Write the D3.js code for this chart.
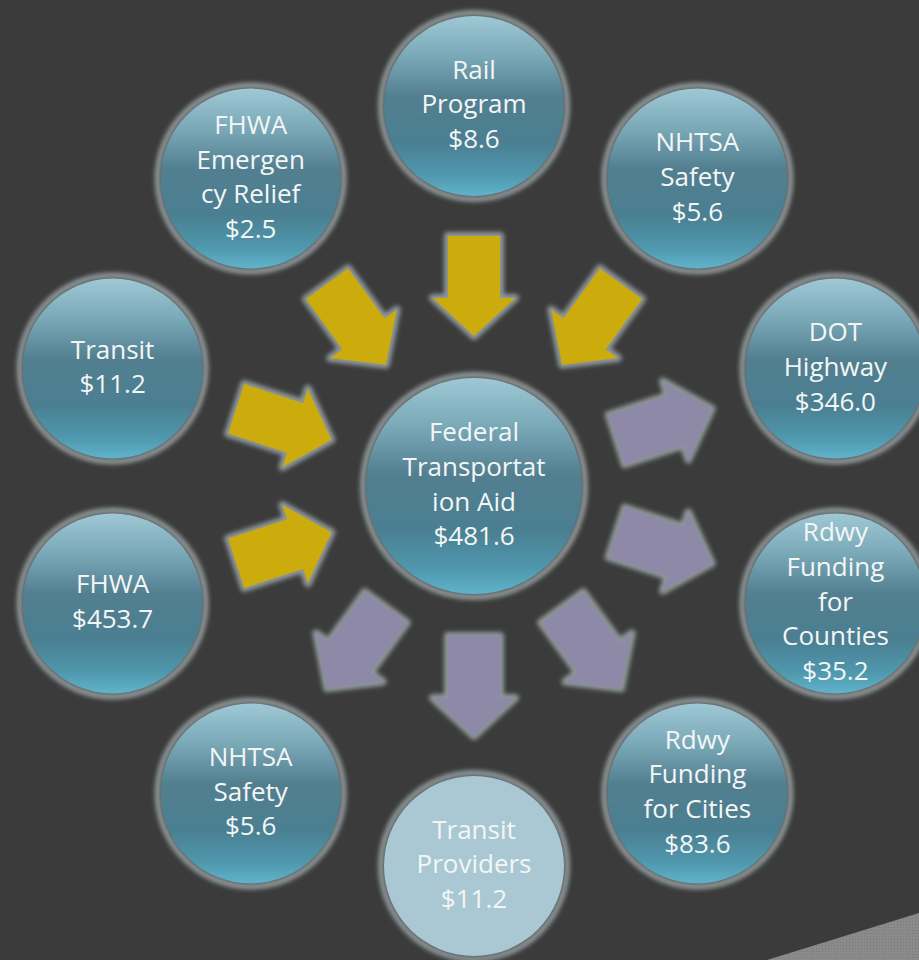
<!DOCTYPE html>
<html>
<head>
<meta charset="utf-8">
<script src="https://cdn.jsdelivr.net/npm/d3@7"></script>
<style>
  html, body { margin: 0; padding: 0; background: #3b3b3b; }
  svg { display: block; }
</style>
</head>
<body>
<div id="chart"></div>
<script>
// ---- data ----
const hubLabel = ["Federal", "Transportat", "ion Aid"];
const hubValue = 481.6;

// outer nodes, clockwise starting at top (angle in degrees, -90 = top)
const nodeLabels = [
  ["Rail", "Program"],
  ["NHTSA", "Safety"],
  ["DOT", "Highway"],
  ["Rdwy", "Funding", "for", "Counties"],
  ["Rdwy", "Funding", "for Cities"],
  ["Transit", "Providers"],
  ["NHTSA", "Safety"],
  ["FHWA"],
  ["Transit"],
  ["FHWA", "Emergen", "cy Relief"]
];
const nodeValues = [8.6, 5.6, 346.0, 35.2, 83.6, 11.2, 5.6, 453.7, 11.2, 2.5];
// "in" = funds flowing into the hub, "out" = funds flowing out of it
const nodeFlow = ["in", "in", "out", "out", "out", "out", "out", "in", "in", "in"];
const nodeAngles = [-90, -54, -18, 18, 54, 90, 126, 162, 198, 234];

// ---- layout ----
const W = 919, H = 960;
const cx = 474, cy = 486;
const ringR = 380, nodeR = 90, hubR = 108, arrowDist = 200;
const lineH = 34.7;
const fmt = v => "$" + d3.format(".1f")(v);

const svg = d3.select("#chart").append("svg")
  .attr("width", W).attr("height", H);

const defs = svg.append("defs");
const grad = defs.append("linearGradient")
  .attr("id", "ballGrad").attr("x1", 0).attr("y1", 0).attr("x2", 0).attr("y2", 1);
[[0, "#9fc8d5"], [0.22, "#7aa9b8"], [0.45, "#527f90"], [0.7, "#4a7f91"], [0.88, "#4f97ad"], [1, "#60b3cb"]]
  .forEach(([o, c]) => grad.append("stop").attr("offset", o).attr("stop-color", c));

const blur = defs.append("filter").attr("id", "glow")
  .attr("x", "-20%").attr("y", "-20%").attr("width", "140%").attr("height", "140%");
blur.append("feGaussianBlur").attr("stdDeviation", 2.2);

const pattern = defs.append("pattern").attr("id", "hatch")
  .attr("width", 3).attr("height", 3).attr("patternUnits", "userSpaceOnUse");
pattern.append("rect").attr("width", 3).attr("height", 3).attr("fill", "#8a8a8a");
pattern.append("rect").attr("width", 1).attr("height", 1).attr("fill", "#7a7a7a");

svg.append("rect").attr("width", W).attr("height", H).attr("fill", "#3b3b3b");

// decorative page curl band in the bottom-right corner
svg.append("path")
  .attr("d", `M${767},${H} L${W},${913} L${W},${H} Z`)
  .attr("fill", "url(#hatch)");

// polar helper
const angleScale = d3.scaleLinear().domain([0, 360]).range([0, 2 * Math.PI]);
const pol = (deg, r) => [cx + r * Math.cos(angleScale(deg)), cy + r * Math.sin(angleScale(deg))];

// ---- arrows ----
const L = 100, shaftW = 52, headW = 82, headL = 38;
const arrowPts = [
  [-L / 2, -shaftW / 2], [L / 2 - headL, -shaftW / 2], [L / 2 - headL, -headW / 2],
  [L / 2, 0], [L / 2 - headL, headW / 2], [L / 2 - headL, shaftW / 2], [-L / 2, shaftW / 2]
];
const arrowPath = d3.line()(arrowPts) + "Z";

const arrows = svg.append("g").selectAll("g")
  .data(nodeAngles.map((a, i) => ({ a, flow: nodeFlow[i] })))
  .join("g")
  .attr("transform", d => {
    const [x, y] = pol(d.a, arrowDist);
    const rot = d.flow === "in" ? d.a + 180 : d.a;
    return `translate(${x},${y}) rotate(${rot})`;
  });
arrows.append("path").attr("d", arrowPath)
  .attr("fill", "#8e9698").attr("stroke", "#8e9698").attr("stroke-width", 8)
  .attr("stroke-linejoin", "round").attr("filter", "url(#glow)");
arrows.append("path").attr("d", arrowPath)
  .attr("fill", d => d.flow === "in" ? "#ccab0c" : "#8f89a8");

// ---- circles ----
function drawBall(g, r, fill) {
  g.append("circle").attr("r", r + 3).attr("fill", "none")
    .attr("stroke", "#8e9698").attr("stroke-width", 6).attr("filter", "url(#glow)");
  g.append("circle").attr("r", r).attr("fill", fill);
}
function drawText(g, lines) {
  const n = lines.length;
  g.append("text")
    .attr("text-anchor", "middle")
    .attr("font-family", "'Open Sans', 'Noto Sans', sans-serif")
    .attr("font-size", 26)
    .attr("fill", "#f4f6f6")
    .selectAll("tspan").data(lines).join("tspan")
    .attr("x", 0)
    .attr("y", (d, i) => (i - (n - 1) / 2) * lineH)
    .attr("dy", "0.28em")
    .text(d => d);
}

const hub = svg.append("g").attr("transform", `translate(${cx},${cy})`);
drawBall(hub, hubR, "url(#ballGrad)");
drawText(hub, hubLabel.concat([fmt(hubValue)]));

const nodes = svg.append("g").selectAll("g")
  .data(nodeAngles.map((a, i) => ({ a, i })))
  .join("g")
  .attr("transform", d => `translate(${pol(d.a, ringR)})`)
  .each(function (d) {
    const g = d3.select(this);
    drawBall(g, nodeR, d.i === 5 ? "#a9c8d3" : "url(#ballGrad)");
    drawText(g, nodeLabels[d.i].concat([fmt(nodeValues[d.i])]));
  });
</script>
</body>
</html>
